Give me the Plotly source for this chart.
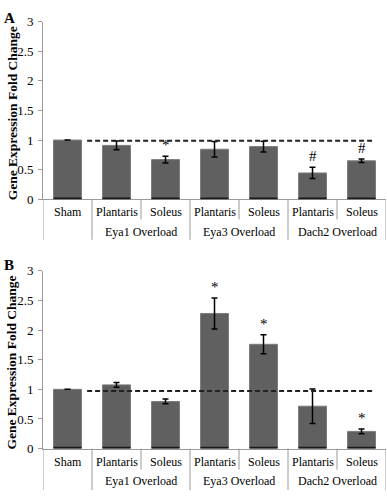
import plotly.graph_objects as go

# ---- data ----
tissues = ["Sham", "Plantaris", "Soleus", "Plantaris", "Soleus", "Plantaris", "Soleus"]
groups = ["Eya1 Overload", "Eya3 Overload", "Dach2 Overload"]
group_centers = [1.5, 3.5, 5.5]

a_values = [1.0, 0.91, 0.67, 0.845, 0.89, 0.445, 0.65]
a_errors = [0.0, 0.075, 0.055, 0.13, 0.09, 0.095, 0.03]
a_marks = ["", "", "*", "", "", "#", "#"]
a_ref = 0.99

b_values = [1.0, 1.075, 0.795, 2.28, 1.76, 0.715, 0.29]
b_errors = [0.0, 0.04, 0.04, 0.26, 0.16, 0.29, 0.04]
b_marks = ["", "", "", "*", "*", "", "*"]
b_ref = 0.97

W, H = 387, 498
SERIF = "Liberation Serif, Times New Roman, serif"
BAR = "#606060"
GRID = "#9a9a9a"

def py(p):  # pixel-from-top -> paper fraction
    return 1 - p / H

fig = go.Figure()
xs = list(range(len(tissues)))

panels = [
    dict(vals=a_values, errs=a_errors, marks=a_marks, ref=a_ref, xa="x", ya="y",
         top=15, bot=198.3, row1=211, row2=232, sep_short=219, sep_long=240, letter="A", letter_top=1),
    dict(vals=b_values, errs=b_errors, marks=b_marks, ref=b_ref, xa="x2", ya="y2",
         top=272, bot=455.3, row1=469, row2=489, sep_short=477, sep_long=498, letter="B", letter_top=256),
]

annotations = []
shapes = []
for p in panels:
    fig.add_trace(go.Bar(
        x=xs, y=p["vals"], xaxis=p["xa"], yaxis=p["ya"], width=0.57,
        marker=dict(color=BAR, line=dict(color="#7c7c7c", width=1)),
        error_y=dict(type="data", array=p["errs"], color="black", thickness=1.5, width=3),
        showlegend=False,
    ))
    for i in xs:
        shapes.append(dict(type="line", xref=p["xa"], yref=p["ya"], x0=i - 0.285, x1=i + 0.285,
                           y0=0.008, y1=0.008, line=dict(color="#1a1a1a", width=2.5), layer="above"))
    fig.add_trace(go.Scatter(x=[0.4, 6.23], y=[p["ref"], p["ref"]], xaxis=p["xa"], yaxis=p["ya"],
                             mode="lines", line=dict(color="#222222", width=2, dash="5px,3px"),
                             showlegend=False, hoverinfo="skip"))
    for i, m in enumerate(p["marks"]):
        if m:
            annotations.append(dict(x=i, y=p["vals"][i] + p["errs"][i], xref=p["xa"], yref=p["ya"],
                                    text=m, showarrow=False, yanchor="bottom", yshift=1,
                                    font=dict(family=SERIF, size=15, color="black")))
    for i, t in enumerate(tissues):
        annotations.append(dict(x=i, y=py(p["row1"]), xref=p["xa"], yref="paper", text=t,
                                showarrow=False, yanchor="middle",
                                font=dict(family=SERIF, size=12, color="black")))
    for g, c in zip(groups, group_centers):
        annotations.append(dict(x=c, y=py(p["row2"]), xref=p["xa"], yref="paper", text=g,
                                showarrow=False, yanchor="middle",
                                font=dict(family=SERIF, size=12, color="black")))
    for s in [-0.5, 0.5, 2.5, 4.5, 6.5]:
        shapes.append(dict(type="line", xref=p["xa"], yref="paper", x0=s, x1=s,
                           y0=py(p["bot"]), y1=py(p["sep_long"]), line=dict(color=GRID, width=1)))
    for s in [1.5, 3.5, 5.5]:
        shapes.append(dict(type="line", xref=p["xa"], yref="paper", x0=s, x1=s,
                           y0=py(p["bot"]), y1=py(p["sep_short"]), line=dict(color=GRID, width=1)))
    annotations.append(dict(x=12 / W, y=py((p["top"] + p["bot"]) / 2 + 3), xref="paper", yref="paper",
                            text="<b>Gene Expression Fold Change</b>", textangle=-90, showarrow=False,
                            xanchor="center", yanchor="middle",
                            font=dict(family=SERIF, size=13.5, color="black")))
    annotations.append(dict(x=0.004, y=py(p["letter_top"]), xref="paper", yref="paper",
                            text="<b>" + p["letter"] + "</b>", showarrow=False,
                            xanchor="left", yanchor="top",
                            font=dict(family=SERIF, size=15, color="black")))

xdom = [43 / W, 386 / W]
xaxis_common = dict(domain=xdom, range=[-0.5, 6.5], showticklabels=False, ticks="",
                    showline=True, linecolor=GRID, linewidth=1, showgrid=False, zeroline=False,
                    fixedrange=True)
yaxis_common = dict(range=[0, 3], dtick=0.5, tick0=0, showline=True, linecolor=GRID, linewidth=1,
                    ticks="outside", ticklen=4, tickcolor=GRID, showgrid=False, zeroline=False,
                    tickfont=dict(family=SERIF, size=13, color="black"), ticklabelstandoff=2,
                    fixedrange=True)

fig.update_layout(
    width=W, height=H, margin=dict(l=0, r=0, t=0, b=0),
    paper_bgcolor="white", plot_bgcolor="white",
    xaxis=dict(**xaxis_common, anchor="y"),
    yaxis=dict(**yaxis_common, domain=[py(198.3), py(15)], anchor="x"),
    xaxis2=dict(**xaxis_common, anchor="y2"),
    yaxis2=dict(**yaxis_common, domain=[py(455.3), py(272)], anchor="x2"),
    annotations=annotations, shapes=shapes, bargap=0.43,
)

fig.write_html("out.html", config={"displayModeBar": False},
               post_script="document.body.style.margin='0';document.body.style.overflow='hidden';")
